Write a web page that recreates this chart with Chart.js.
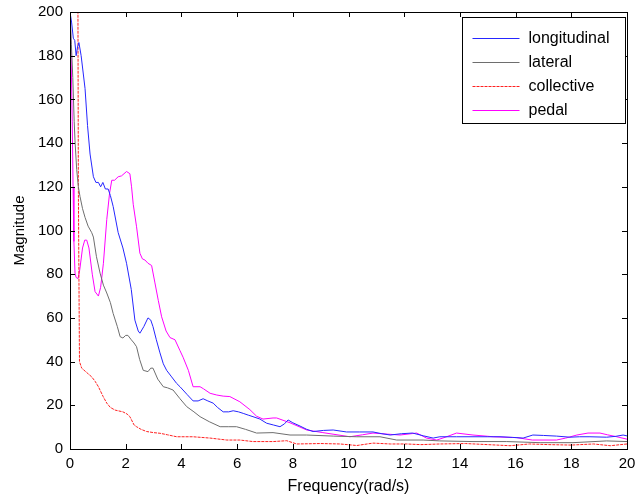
<!DOCTYPE html>
<html>
<head>
<meta charset="utf-8">
<script src="https://cdn.jsdelivr.net/npm/chart.js@4.4.1/dist/chart.umd.min.js"></script>
<style>
  html, body { margin: 0; padding: 0; background: #fff; }
</style>
</head>
<body>
<canvas id="chart" width="635" height="499"></canvas>
<script>
// values (frequency in rad/s, magnitude)
const seriesNames = ['longitudinal', 'lateral', 'collective', 'pedal'];
const xTicks = [0, 2, 4, 6, 8, 10, 12, 14, 16, 18, 20];
const yTicks = [0, 20, 40, 60, 80, 100, 120, 140, 160, 180, 200];

const longFreq = [0, 0.06, 0.12, 0.17, 0.22, 0.27, 0.32, 0.4, 0.54, 0.63, 0.72, 0.84, 0.93, 1.02, 1.1, 1.18, 1.27, 1.37, 1.45, 1.55, 1.73, 1.9, 2.03, 2.2, 2.33, 2.45, 2.51, 2.65, 2.8, 2.9, 2.98, 3.1, 3.23, 3.35, 3.47, 3.65, 3.83, 3.95, 4.2, 4.42, 4.6, 4.78, 4.95, 5.14, 5.3, 5.5, 5.7, 5.86, 6.05, 6.22, 6.4, 6.57, 6.82, 7.06, 7.3, 7.54, 7.7, 7.83, 8.0, 8.26, 8.5, 8.73, 9.1, 9.45, 9.93, 10.4, 10.88, 11.2, 11.5, 11.9, 12.3, 12.7, 13.04, 13.28, 13.88, 14.47, 15.0, 15.44, 15.9, 16.27, 16.62, 17.0, 17.47, 17.95, 18.3, 18.67, 19.27, 19.6, 19.86, 20];
const longMag = [200, 195, 188, 187, 180, 184, 186, 180, 165, 148, 135, 124.6, 122, 122, 120, 122, 119, 119, 116, 111, 99, 92, 85, 73, 59, 54, 53, 56, 60, 59, 56, 50, 44, 39, 36, 33, 30, 28.5, 25, 22, 22, 23, 22, 21, 19, 17, 17, 17.5, 17, 16.3, 15.5, 14.8, 13.7, 11.8, 11, 10.2, 11.5, 13.3, 12, 10.5, 9, 8, 8.5, 8.7, 7.8, 7.8, 7.8, 7, 6.4, 7, 7.3, 6, 5, 5.6, 5.6, 5.6, 5.6, 5.6, 5.3, 5, 6.4, 6.2, 5.9, 5.4, 5.6, 5.6, 5.4, 5.8, 6.4, 6];

const latFreq = [0, 0.05, 0.1, 0.15, 0.18, 0.24, 0.3, 0.36, 0.45, 0.54, 0.65, 0.78, 0.84, 0.95, 1.08, 1.2, 1.32, 1.45, 1.55, 1.7, 1.8, 1.9, 2.0, 2.08, 2.2, 2.3, 2.39, 2.5, 2.63, 2.8, 2.9, 2.98, 3.15, 3.35, 3.5, 3.7, 3.95, 4.19, 4.45, 4.67, 5.0, 5.39, 5.7, 5.98, 6.3, 6.7, 7.29, 7.9, 8.5, 9.45, 10.3, 11.13, 11.73, 12.68, 13.28, 14.47, 15.68, 16.88, 18.06, 19.27, 20];
const latMag = [200, 185, 170, 150, 141, 128, 120, 115.5, 110, 106, 102, 99, 97, 88, 80.5, 75, 71.4, 67, 62, 56, 51.4, 50.8, 52, 52, 50, 48.5, 46.8, 41, 36, 35.4, 37, 37, 32, 28.5, 28, 27, 23, 19.4, 17, 14.8, 12.5, 10.2, 10.2, 10.2, 9, 7.3, 7.5, 6.4, 6.4, 5.9, 5.6, 5.6, 4.1, 4.1, 3.7, 3.4, 3.4, 2.9, 2.9, 3.7, 3.4];

const collFreq = [0, 0.1, 0.28, 0.3, 0.34, 0.42, 0.6, 0.78, 0.9, 1.02, 1.19, 1.32, 1.45, 1.62, 1.9, 2.05, 2.15, 2.3, 2.39, 2.55, 2.75, 3.0, 3.23, 3.5, 3.83, 4.42, 5.03, 5.63, 6.1, 6.57, 7.29, 7.78, 8.14, 9.0, 9.7, 10.3, 10.88, 11.5, 12.09, 12.6, 13.28, 14.2, 15, 15.8, 16.5, 17.2, 18, 18.8, 19.4, 20];
const collMag = [205, 230, 230, 120, 40, 37, 35, 33, 31, 28.5, 24, 21, 19, 17.8, 17, 16, 14.8, 11, 10.2, 9, 8, 7.5, 7.2, 6.5, 5.6, 5.6, 5, 4.1, 4.1, 3.4, 3.4, 3.8, 2.3, 2.5, 2.3, 1.6, 2.7, 2.3, 2.3, 2, 2.3, 2.5, 2, 1.5, 2.3, 2, 1.8, 2.3, 1.5, 2.3];

const pedFreq = [0, 0.04, 0.08, 0.11, 0.14, 0.18, 0.22, 0.29, 0.35, 0.45, 0.53, 0.6, 0.68, 0.8, 0.9, 1.02, 1.1, 1.2, 1.32, 1.42, 1.5, 1.6, 1.73, 1.85, 2.03, 2.15, 2.21, 2.27, 2.39, 2.51, 2.6, 2.69, 2.8, 2.93, 3.05, 3.17, 3.29, 3.45, 3.59, 3.77, 3.95, 4.06, 4.25, 4.42, 4.67, 4.8, 5.03, 5.27, 5.5, 5.74, 6.1, 6.46, 6.7, 6.93, 7.29, 7.42, 7.9, 8.5, 9.08, 10.05, 10.5, 10.88, 11.4, 11.85, 12.45, 12.8, 13.17, 13.5, 13.88, 14.47, 15.2, 16.04, 16.6, 17.47, 17.8, 18.2, 18.6, 19.03, 19.3, 19.63, 20];
const pedMag = [205, 180, 150, 120, 95, 80.5, 78.5, 78, 82, 92, 95.6, 95.6, 92, 80, 72, 70, 74, 85, 105, 117, 123, 123, 124.6, 125, 127, 126, 120, 112, 101.7, 89.6, 87, 86.5, 85, 84, 76, 68, 60.5, 54, 51, 50, 45, 42, 36, 28.5, 28.5, 27.5, 25.5, 24.7, 24.2, 24, 21.6, 18, 15, 13.7, 14.2, 14.2, 12, 8.7, 7.5, 5.6, 6.5, 7.3, 6.8, 6.4, 7.3, 5, 4.1, 5.5, 7.3, 6.4, 5.6, 5.2, 4.1, 4.1, 5, 6.4, 7.3, 7.3, 6.5, 5.6, 4.5];

const fontName = '"Liberation Sans", Arial, sans-serif';

function toPoints(xs, ys) {
    return xs.map((x, i) => ({ x: x, y: ys[i] }));
}

// fixed axis size, no extra room for overflowing labels
function fixSize(s, w, h) {
    if (w) s.width = w;
    if (h) s.height = h;
    s.paddingTop = 0;
    s.paddingBottom = 0;
    s.paddingLeft = 0;
    s.paddingRight = 0;
}

// box, inward ticks on all sides and a legend in the top right corner, like matlab
const matlabBox = {
    id: 'matlabBox',
    afterDatasetsDraw(chart) {
        const ctx = chart.ctx;
        const a = chart.chartArea;
        const sx = chart.scales.x;
        const sy = chart.scales.y;
        const tl = 5;
        ctx.save();
        ctx.strokeStyle = '#000';
        ctx.lineWidth = 1;
        ctx.beginPath();
        xTicks.forEach(v => {
            const px = Math.round(sx.getPixelForValue(v)) + 0.5;
            ctx.moveTo(px, a.bottom); ctx.lineTo(px, a.bottom - tl);
            ctx.moveTo(px, a.top); ctx.lineTo(px, a.top + tl);
        });
        yTicks.forEach(v => {
            const py = Math.round(sy.getPixelForValue(v)) + 0.5;
            ctx.moveTo(a.left, py); ctx.lineTo(a.left + tl, py);
            ctx.moveTo(a.right, py); ctx.lineTo(a.right - tl, py);
        });
        ctx.stroke();
        ctx.strokeRect(Math.round(a.left) + 0.5, Math.round(a.top) + 0.5,
            Math.round(a.right - a.left), Math.round(a.bottom - a.top));

        // legend
        const lw = 163, lh = 106;
        const lx = Math.round(a.right) - 2 - lw + 0.5;
        const ly = Math.round(a.top) + 5 + 0.5;
        ctx.fillStyle = '#fff';
        ctx.fillRect(lx, ly, lw, lh);
        ctx.strokeRect(lx, ly, lw, lh);
        ctx.font = '16px ' + fontName;
        ctx.textBaseline = 'middle';
        chart.data.datasets.forEach((ds, i) => {
            const yy = Math.round(ly + 20 + i * 24.3) + 0.5;
            ctx.strokeStyle = ds.borderColor;
            ctx.setLineDash(ds.borderDash || []);
            ctx.beginPath();
            ctx.moveTo(lx + 10, yy);
            ctx.lineTo(lx + 57, yy);
            ctx.stroke();
            ctx.setLineDash([]);
            ctx.fillStyle = '#000';
            ctx.fillText(ds.label, lx + 66, yy);
        });
        ctx.restore();
    }
};

new Chart(document.getElementById('chart'), {
    type: 'line',
    data: {
        datasets: [
            { label: seriesNames[0], data: toPoints(longFreq, longMag), borderColor: '#2626ff' },
            { label: seriesNames[1], data: toPoints(latFreq, latMag), borderColor: '#6e6e6e' },
            { label: seriesNames[2], data: toPoints(collFreq, collMag), borderColor: '#ff2020', borderDash: [3, 1] },
            { label: seriesNames[3], data: toPoints(pedFreq, pedMag), borderColor: '#ff00ff' }
        ]
    },
    options: {
        responsive: false,
        animation: false,
        layout: { padding: { left: 0, top: 12, right: 8, bottom: 0 } },
        elements: {
            line: { borderWidth: 1, tension: 0 },
            point: { radius: 0 }
        },
        plugins: {
            legend: { display: false },
            tooltip: { enabled: false }
        },
        scales: {
            x: {
                type: 'linear',
                min: 0,
                max: 20,
                afterFit: s => fixSize(s, 0, 50),
                afterBuildTicks: s => { s.ticks = xTicks.map(v => ({ value: v })); },
                grid: { display: false, drawTicks: false },
                border: { display: false },
                ticks: { color: '#000', font: { family: fontName, size: 15 }, padding: 6, maxRotation: 0 },
                title: { display: true, text: 'Frequency(rad/s)', color: '#000', font: { family: fontName, size: 16 }, padding: { top: 0, bottom: 3 } }
            },
            y: {
                min: 0,
                max: 200,
                afterFit: s => fixSize(s, 70, 0),
                afterBuildTicks: s => { s.ticks = yTicks.map(v => ({ value: v })); },
                grid: { display: false, drawTicks: false },
                border: { display: false },
                ticks: { color: '#000', font: { family: fontName, size: 15 }, padding: 7 },
                title: { display: true, text: 'Magnitude', color: '#000', font: { family: fontName, size: 15 }, padding: { top: 11, bottom: 0 } }
            }
        }
    },
    plugins: [matlabBox]
});
</script>
</body>
</html>
